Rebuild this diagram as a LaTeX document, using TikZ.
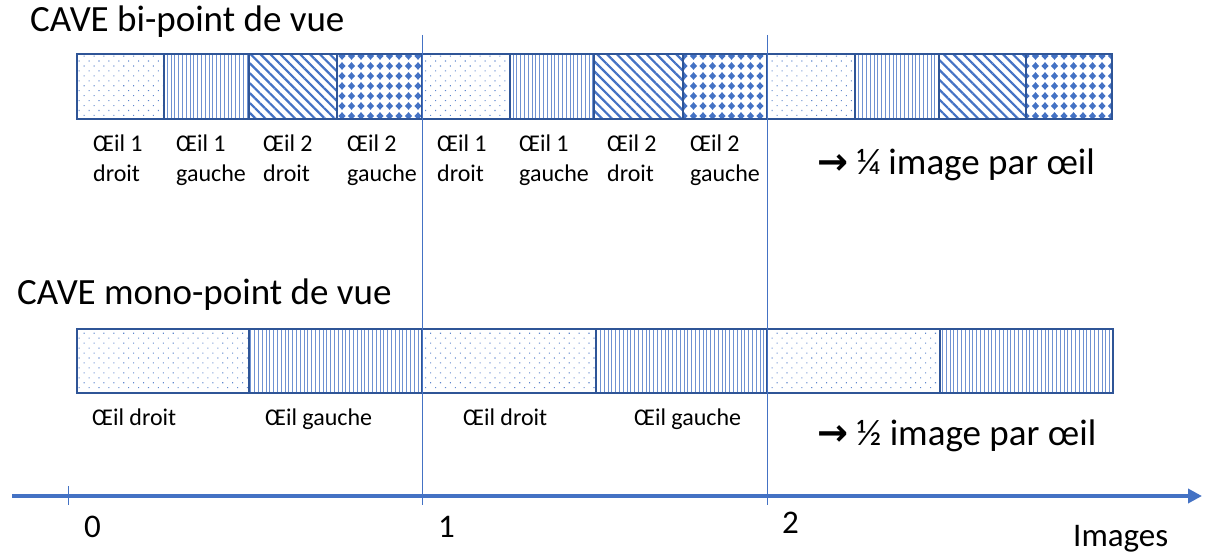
\documentclass[tikz,border=0pt]{standalone}
\usepackage{fontspec}
\setmainfont{Carlito}
\newfontfamily\symfont{DejaVu Sans}
\usetikzlibrary{patterns,patterns.meta,arrows.meta}
\definecolor{edgeblue}{HTML}{2F5597}
\definecolor{midblue}{HTML}{4472C4}
\definecolor{lightblue}{HTML}{6F92D2}
\pgfdeclarepattern{
  name=Diamonds,
  type=uncolored,
  bottom left={\pgfpoint{-4.75pt}{-5pt}},
  top right={\pgfpoint{4.75pt}{5pt}},
  tile size={\pgfpoint{9.5pt}{10pt}},
  code={
    \pgfpathmoveto{\pgfpoint{-3.6pt}{0pt}}
    \pgfpathlineto{\pgfpoint{0pt}{3.8pt}}
    \pgfpathlineto{\pgfpoint{3.6pt}{0pt}}
    \pgfpathlineto{\pgfpoint{0pt}{-3.8pt}}
    \pgfpathclose
    \pgfusepath{fill}
  }
}
\tikzset{
  cell/.style={draw=edgeblue, line width=1.8pt, anchor=north west, inner sep=0pt, outer sep=0pt},
  dotted cell/.style={cell, pattern={Dots[angle=45, distance=7pt, radius=0.75pt]}, pattern color=midblue!85},
  vlines cell/.style={cell, pattern={Lines[angle=90, distance=3.8pt, line width=1pt]}, pattern color=lightblue},
  diag cell/.style={cell, pattern={Lines[angle=-45, distance=7pt, line width=2.2pt]}, pattern color=midblue},
  diamond cell/.style={cell, pattern=Diamonds, pattern color=midblue},
  title/.style={inner sep=0pt, anchor=base west, font=\fontsize{37}{44}\selectfont},
  note/.style={inner sep=0pt, anchor=base west, font=\fontsize{37}{44}\selectfont},
  lbl/.style={inner sep=0pt, anchor=base west, font=\fontsize{24}{29}\selectfont},
  num/.style={inner sep=0pt, anchor=base west, font=\fontsize{33}{40}\selectfont},
  guide/.style={draw=midblue, line width=1pt},
  axis/.style={draw=midblue, line width=4.2pt, -{Triangle[length=14pt, width=14pt]}},
}
\begin{document}
\begin{tikzpicture}[x=1pt, y=-1pt]
\useasboundingbox (0,0) rectangle (1208,556);

% titles
\node[title] (t1) at (30,32) {CAVE bi-point de vue};
\node[title] (t2) at (17,305) {CAVE mono-point de vue};

% top row
\node[dotted cell, minimum width=87, minimum height=65] (a1) at (77,54) {};
\node[vlines cell, minimum width=85, minimum height=65] (a2) at (164,54) {};
\node[diag cell, minimum width=88, minimum height=65] (a3) at (249,54) {};
\node[diamond cell, minimum width=85, minimum height=65] (a4) at (337,54) {};
\node[dotted cell, minimum width=88, minimum height=65] (a5) at (422,54) {};
\node[vlines cell, minimum width=84, minimum height=65] (a6) at (510,54) {};
\node[diag cell, minimum width=89, minimum height=65] (a7) at (594,54) {};
\node[diamond cell, minimum width=84, minimum height=65] (a8) at (683,54) {};
\node[dotted cell, minimum width=88, minimum height=65] (a9) at (767,54) {};
\node[vlines cell, minimum width=84, minimum height=65] (a10) at (855,54) {};
\node[diag cell, minimum width=87, minimum height=65] (a11) at (939,54) {};
\node[diamond cell, minimum width=86, minimum height=65] (a12) at (1026,54) {};

% top labels
\foreach \x/\a/\b [count=\i] in {93/Œil 1/droit, 176/Œil 1/gauche, 263/Œil 2/droit, 347/Œil 2/gauche, 437/Œil 1/droit, 519/Œil 1/gauche, 607/Œil 2/droit, 690/Œil 2/gauche} {
  \node[lbl] (la\i) at (\x,152) {\a};
  \node[lbl] (lb\i) at (\x,182) {\b};
}
\node[note] (n1) at (817,175) {{\symfont\bfseries →} ¼ image par œil};

% bottom row
\node[dotted cell, minimum width=172, minimum height=64] (b1) at (77,329) {};
\node[vlines cell, minimum width=173, minimum height=64] (b2) at (249,329) {};
\node[dotted cell, minimum width=174, minimum height=64] (b3) at (422,329) {};
\node[vlines cell, minimum width=171, minimum height=64] (b4) at (596,329) {};
\node[dotted cell, minimum width=173, minimum height=64] (b5) at (767,329) {};
\node[vlines cell, minimum width=173, minimum height=64] (b6) at (940,329) {};

\node[lbl] (c1) at (92,425) {Œil droit};
\node[lbl] (c2) at (265,425) {Œil gauche};
\node[lbl] (c3) at (463,425) {Œil droit};
\node[lbl] (c4) at (634,425) {Œil gauche};
\node[note] (n2) at (817,445) {{\symfont\bfseries →} ½ image par œil};

% axis
\coordinate (ax0) at (12,496);
\coordinate (ax1) at (1202,496);
\draw[axis] (ax0) -- (ax1);
\coordinate (tk0) at (68,486);
\coordinate (tk1) at (68,505);
\draw[guide] (tk0) -- (tk1);
\coordinate (g1a) at (422,35);
\coordinate (g1b) at (422,505);
\coordinate (g2a) at (767,35);
\coordinate (g2b) at (767,505);
\draw[guide] (g1a) -- (g1b);
\draw[guide] (g2a) -- (g2b);

\node[num] (z0) at (84,537) {0};
\node[num] (z1) at (438,537) {1};
\node[num] (z2) at (782,533) {2};
\node[num] (zi) at (1073,546) {Images};
\end{tikzpicture}
\end{document}
